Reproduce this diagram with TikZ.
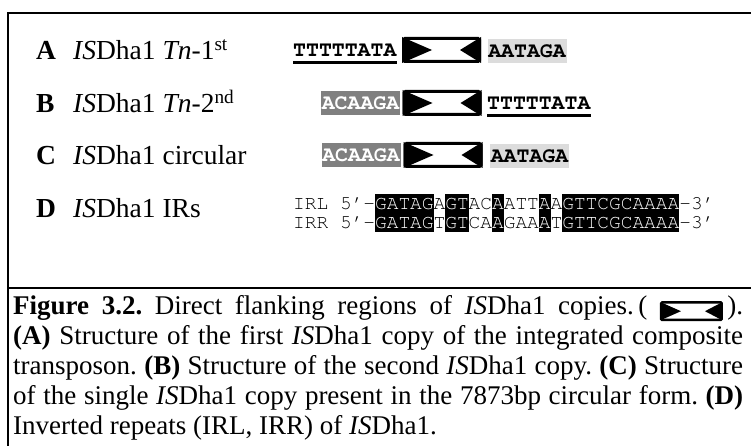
\documentclass[tikz,border=0pt]{standalone}
\usepackage{fontspec}
\setmainfont{Liberation Serif}
\setmonofont{TeX Gyre Cursor}
\usetikzlibrary{calc}
\definecolor{lightbg}{HTML}{DCDCDC}
\definecolor{darkbg}{HTML}{808080}
\newcommand\hlb[1]{{\setlength{\fboxsep}{0pt}\colorbox{black}{\rule[-4.5pt]{0pt}{19pt}\textcolor{white}{#1}}}}
\newcommand\capbox{\tikz[x=1pt,y=1pt,baseline=7pt]{%
  \draw[line width=2.5pt,rounded corners=1pt,fill=white] (1.25,1.25) rectangle (61.75,18.75);
  \fill (1.25,1.25) -- (1.25,18.75) -- (21,10) -- cycle;
  \fill (61.75,1.25) -- (61.75,18.75) -- (45,10) -- cycle;}}
\tikzset{
  lab/.style={inner sep=0pt, font=\fontsize{27.5}{30}\selectfont},
  seq/.style={inner sep=0pt, minimum height=24pt, text height=13pt, text depth=0pt,
    font=\fontsize{21.5}{24}\selectfont\ttfamily\bfseries},
  lightseq/.style={seq, fill=lightbg, minimum width=79pt},
  darkseq/.style={seq, fill=darkbg, text=white, minimum width=79pt},
  isbox/.style={draw, line width=3pt, rounded corners=1.5pt, fill=white,
    minimum width=76pt, minimum height=23pt, inner sep=0pt},
  irtext/.style={inner sep=0pt, font=\fontsize{19.5}{19}\selectfont\ttfamily},
  uline/.style={line width=3pt},
  frame/.style={line width=2.5pt}
}
\begin{document}
\frenchspacing
\begin{tikzpicture}[x=1pt,y=-1pt]
\useasboundingbox (0,0) rectangle (751,446);
% frame
\coordinate (tl) at (8,13);
\coordinate (tr) at (751,13);
\coordinate (bl) at (8,446);
\coordinate (sl) at (8,288);
\coordinate (sr) at (751,288);
\draw[frame] (tr) -- (tl) -- (bl);
\draw[frame] (sl) -- (sr);
% row A
\node[lab, anchor=base west] (la) at (36,60) {\textbf{A}};
\node[lab, anchor=base west] (ta) at (73,60) {\textit{IS}Dha1 \textit{Tn}-1\textsuperscript{st}};
\node[seq, anchor=west] (a1) at (293,50) {TTTTTATA};
\draw[uline] ($(a1.base west)+(0,6)$) -- ($(a1.base east)+(0,6)$);
\node[isbox] (ba) at (441.5,50) {};
\fill (ba.north west) -- (ba.south west) -- ($(ba.west)+(30,0)$) -- cycle;
\fill (ba.north east) -- (ba.south east) -- ($(ba.east)+(-21,0)$) -- cycle;
\node[lightseq] (a3) at (527,51) {AATAGA};
% row B
\node[lab, anchor=base west] (lb) at (36,113) {\textbf{B}};
\node[lab, anchor=base west] (tb) at (73,113) {\textit{IS}Dha1 \textit{Tn}-2\textsuperscript{nd}};
\node[darkseq] (b1) at (360.5,103) {ACAAGA};
\node[isbox] (bb) at (442,103) {};
\fill (bb.north west) -- (bb.south west) -- ($(bb.west)+(30,0)$) -- cycle;
\fill (bb.north east) -- (bb.south east) -- ($(bb.east)+(-21,0)$) -- cycle;
\node[seq, anchor=west] (b3) at (487,103) {TTTTTATA};
\draw[uline] ($(b3.base west)+(0,6)$) -- ($(b3.base east)+(0,6)$);
% row C
\node[lab, anchor=base west] (lc) at (36,165) {\textbf{C}};
\node[lab, anchor=base west] (tc) at (73,165) {\textit{IS}Dha1 circular};
\node[darkseq] (c1) at (361,155) {ACAAGA};
\node[isbox] (bc) at (443,155) {};
\fill (bc.north west) -- (bc.south west) -- ($(bc.west)+(30,0)$) -- cycle;
\fill (bc.north east) -- (bc.south east) -- ($(bc.east)+(-21,0)$) -- cycle;
\node[lightseq] (c3) at (529.5,156) {AATAGA};
% row D
\node[lab, anchor=base west] (ld) at (36,218) {\textbf{D}};
\node[lab, anchor=base west] (td) at (73,218) {\textit{IS}Dha1 IRs};
\node[irtext, anchor=base west] (irl) at (293,209) {IRL 5’-\hlb{GATAG}A\hlb{GT}AC\hlb{A}ATT\hlb{A}A\hlb{GTTCGCAAAA}-3’};
\node[irtext, anchor=base west] (irr) at (293,228) {IRR 5’-\hlb{GATAG}T\hlb{GT}CA\hlb{A}GAA\hlb{A}T\hlb{GTTCGCAAAA}-3’};
% caption
\node[anchor=north west, inner sep=0pt, text width=730pt, align=justify,
  font=\fontsize{27}{30}\selectfont] (cap) at (13,293)
  {\strut\textbf{Figure 3.2.} Direct flanking regions of \textit{IS}Dha1 copies.\,( \capbox\,).\linebreak
  \textbf{(A)} Structure of the first \textit{IS}Dha1 copy of the integrated composite\linebreak
  transposon. \textbf{(B)} Structure of the second \textit{IS}Dha1 copy. \textbf{(C)} Structure\linebreak
  of the single \textit{IS}Dha1 copy present in the 7873bp circular form. \textbf{(D)}\linebreak
  Inverted repeats (IRL, IRR) of \textit{IS}Dha1.};
\end{tikzpicture}
\end{document}
